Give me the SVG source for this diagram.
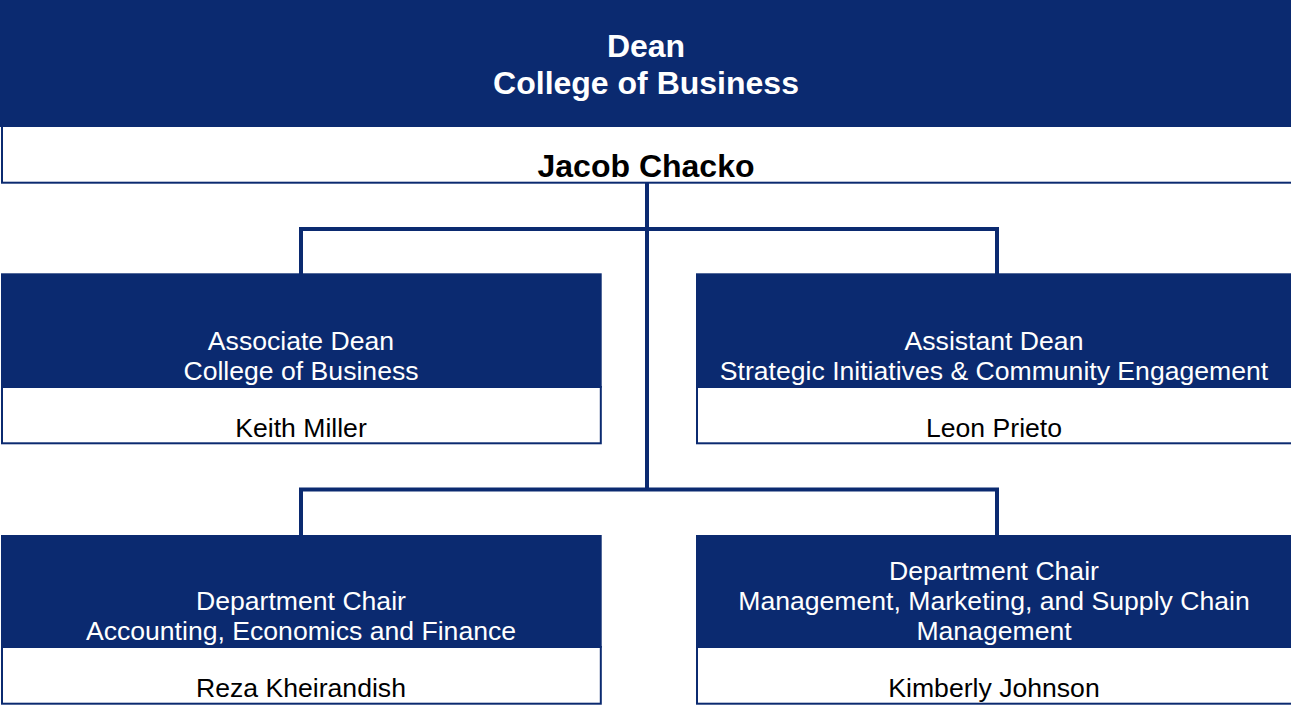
<svg xmlns="http://www.w3.org/2000/svg" width="1291" height="705" viewBox="0 0 1291 705">
<style>
.hd{fill:#0B2A70}
.bd{fill:#fff;stroke:#0B2A70;stroke-width:2}
.t{font-family:"Liberation Sans",Arial,sans-serif;text-anchor:middle}
.tb{font-family:"Liberation Sans",Arial,sans-serif;text-anchor:middle;font-weight:bold;font-size:32px}
.w{fill:#fff;font-size:26.6px}
.k{fill:#000;font-size:26.6px}
.c{fill:none;stroke:#0B2A70;stroke-width:4}
</style>
<rect width="1291" height="705" fill="#fff"/>
<g id="connectors">
<path class="c" d="M647 183V491"/>
<path class="c" d="M301 274V229H997V274"/>
<path class="c" d="M301 535V489.5H997V535"/>
</g>
<g id="dean">
<rect class="bd" x="2" y="126" width="1300" height="56.7"/>
<rect class="hd" x="0" y="0" width="1291" height="127"/>
<text class="tb" x="646" y="57" fill="#fff">Dean</text>
<text class="tb" x="646" y="94" fill="#fff">College of Business</text>
<text class="tb" x="646" y="177" fill="#000">Jacob Chacko</text>
</g>
<g id="associate-dean">
<rect class="bd" x="2" y="387" width="598.8" height="56.3"/>
<rect class="hd" x="1" y="273.3" width="600.7" height="114.4"/>
<text class="t w" x="301" y="350">Associate Dean</text>
<text class="t w" x="301" y="380">College of Business</text>
<text class="t k" x="301" y="437">Keith Miller</text>
</g>
<g id="assistant-dean">
<rect class="bd" x="697" y="387" width="700" height="56.3"/>
<rect class="hd" x="696" y="273.3" width="595" height="114.4"/>
<text class="t w" x="994" y="350">Assistant Dean</text>
<text class="t w" x="994" y="380">Strategic Initiatives &amp; Community Engagement</text>
<text class="t k" x="994" y="437">Leon Prieto</text>
</g>
<g id="chair-aef">
<rect class="bd" x="2" y="647" width="598.8" height="56.7"/>
<rect class="hd" x="1" y="535" width="600.7" height="112.7"/>
<text class="t w" x="301" y="610">Department Chair</text>
<text class="t w" x="301" y="640">Accounting, Economics and Finance</text>
<text class="t k" x="301" y="697">Reza Kheirandish</text>
</g>
<g id="chair-mms">
<rect class="bd" x="697" y="647" width="700" height="56.7"/>
<rect class="hd" x="696" y="535" width="595" height="112.7"/>
<text class="t w" x="994" y="580">Department Chair</text>
<text class="t w" x="994" y="610">Management, Marketing, and Supply Chain</text>
<text class="t w" x="994" y="640">Management</text>
<text class="t k" x="994" y="697">Kimberly Johnson</text>
</g>
</svg>
